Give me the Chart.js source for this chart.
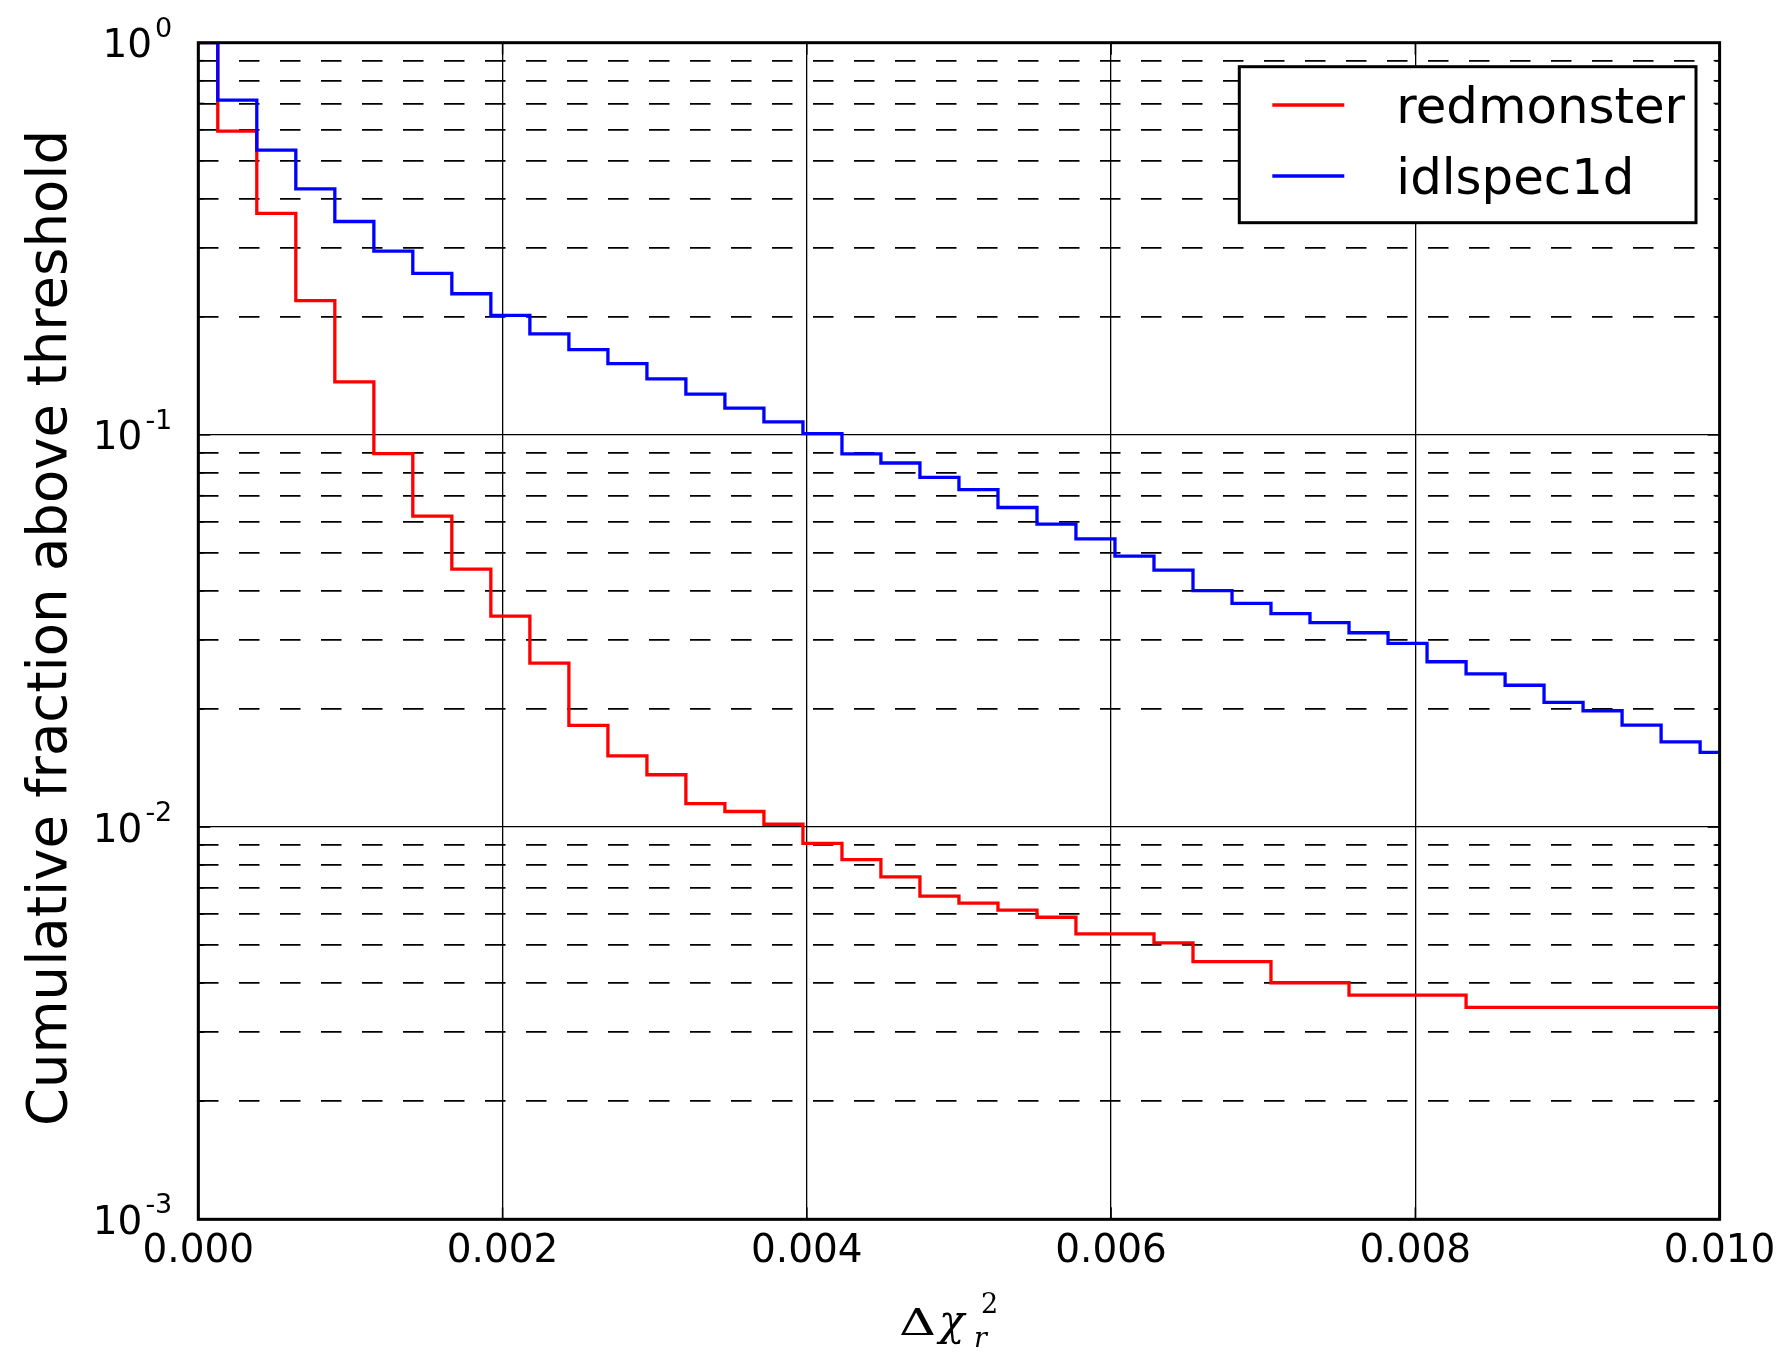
<!DOCTYPE html>
<html>
<head>
<meta charset="utf-8" />
<title>Cumulative fraction above threshold</title>
<script src="https://cdn.jsdelivr.net/npm/chart.js@4.4.0/dist/chart.umd.min.js"></script>
<style>
	body { margin: 0; padding: 0; background: #fff; }
	#chart { position: absolute; left: 0; top: 0; }
</style>
</head>
<body>
<canvas id="chart" width="1790" height="1356"></canvas>

<script>

// thresholds on the x axis (delta chi2_r)
var thresholds = [0.000000, 0.000256, 0.000513, 0.000769, 0.001026, 0.001282, 0.001538, 0.001795,
	0.002051, 0.002308, 0.002564, 0.002821, 0.003077, 0.003333, 0.003590, 0.003846,
	0.004103, 0.004359, 0.004615, 0.004872, 0.005128, 0.005385, 0.005641, 0.005897,
	0.006154, 0.006410, 0.006667, 0.006923, 0.007179, 0.007436, 0.007692, 0.007949,
	0.008205, 0.008462, 0.008718, 0.008974, 0.009231, 0.009487, 0.009744, 0.010000];

var redmonster = [1.0, 0.595, 0.367, 0.220, 0.1365, 0.0896, 0.0621, 0.0455,
	0.0345, 0.0262, 0.01816, 0.0152, 0.0136, 0.01148, 0.01096, 0.01017,
	0.00909, 0.00826, 0.00747, 0.00667, 0.0064, 0.00614, 0.00589, 0.00534,
	0.00534, 0.00507, 0.00454, 0.00454, 0.00401, 0.00401, 0.00373, 0.00373,
	0.00373, 0.00347, 0.00347, 0.00347, 0.00347, 0.00347, 0.00347, 0.00347];

var idlspec1d = [1.0, 0.714, 0.532, 0.424, 0.350, 0.294, 0.258, 0.229,
	0.2018, 0.181, 0.165, 0.152, 0.139, 0.127, 0.117, 0.108,
	0.1007, 0.0895, 0.0848, 0.0779, 0.0725, 0.0653, 0.0592, 0.0543,
	0.0491, 0.0452, 0.0401, 0.0372, 0.035, 0.0332, 0.0313, 0.0294,
	0.0264, 0.0246, 0.023, 0.0208, 0.0198, 0.0182, 0.0165, 0.0155];

var xTicks = [0, 0.002, 0.004, 0.006, 0.008, 0.010];
var yDecades = [0.001, 0.01, 0.1, 1];
var yDecadeExp = ['-3', '-2', '-1', '0'];

var yLabel = 'Cumulative fraction above threshold';

// minor positions 2..9 in each decade
var yGridValues = [];
for (var d = 0; d < yDecades.length - 1; d++) {
	for (var m = 1; m <= 9; m++) {
		yGridValues.push(parseFloat((m * yDecades[d]).toPrecision(3)));
	}
}
yGridValues.push(1);

function isDecade(v) {
	var l = Math.log10(v);
	return Math.abs(l - Math.round(l)) < 1e-6;
}

function pts(ys) {
	return thresholds.map(function (x, i) { return { x: x, y: ys[i] }; });
}

var extras = {
	id: 'extras',
	afterDraw: function (chart) {
		var ctx = chart.ctx, a = chart.chartArea;
		var sx = chart.scales.x, sy = chart.scales.y;
		ctx.save();

		function seg(x1, y1, x2, y2) {
			ctx.beginPath(); ctx.moveTo(x1, y1); ctx.lineTo(x2, y2); ctx.stroke();
		}

		// inward ticks
		ctx.strokeStyle = '#000';
		ctx.lineWidth = 1.5;
		yGridValues.forEach(function (v) {
			var py = sy.getPixelForValue(v);
			var len = isDecade(v) ? 12 : 6;
			seg(a.left, py, a.left + len, py);
			seg(a.right - len, py, a.right, py);
		});
		xTicks.forEach(function (v) {
			var px = sx.getPixelForValue(v);
			seg(px, a.bottom, px, a.bottom - 12);
			seg(px, a.top, px, a.top + 12);
		});

		// frame
		ctx.lineWidth = 3;
		ctx.strokeRect(a.left, a.top, a.right - a.left, a.bottom - a.top);

		// y tick labels 10^n
		ctx.fillStyle = '#000';
		ctx.textBaseline = 'alphabetic';
		yDecades.forEach(function (v, i) {
			var py = sy.getPixelForValue(v);
			ctx.font = '27px "DejaVu Sans"';
			ctx.textAlign = 'right';
			var supRight = a.left - 26;
			ctx.fillText(yDecadeExp[i], supRight, py - 6);
			var supW = ctx.measureText(yDecadeExp[i]).width;
			ctx.font = '39px "DejaVu Sans"';
			ctx.fillText('10', supRight - supW - 3, py + 14.5);
		});

		// y axis title
		ctx.save();
		ctx.translate(66, (a.top + a.bottom) / 2 - 3);
		ctx.rotate(-Math.PI / 2);
		ctx.font = '54.5px "DejaVu Sans"';
		ctx.textAlign = 'center';
		ctx.textBaseline = 'alphabetic';
		ctx.fillText(yLabel, 0, 0);
		ctx.restore();

		// x axis title  Δχ_r^2
		var cx = (a.left + a.right) / 2;
		ctx.textAlign = 'left';
		ctx.save();
		ctx.translate(cx - 60, 1335);
		ctx.scale(1.35, 1);
		ctx.font = '38px "DejaVu Serif"';
		ctx.fillText('Δ', 0, 0);
		ctx.restore();
		ctx.font = 'italic 42px "DejaVu Serif"';
		ctx.fillText('χ', cx - 20, 1335);
		ctx.font = 'italic 27px "DejaVu Serif"';
		ctx.fillText('r', cx + 15, 1347);
		ctx.font = '27px "DejaVu Serif"';
		ctx.fillText('2', cx + 22, 1313);

		// legend
		var bx = a.right - 23.6 - 456.7, by = a.top + 24;
		ctx.fillStyle = '#fff';
		ctx.fillRect(bx, by, 456.7, 156);
		ctx.lineWidth = 3;
		ctx.strokeStyle = '#000';
		ctx.strokeRect(bx, by, 456.7, 156);
		chart.data.datasets.forEach(function (ds, i) {
			var ly = by + 38.3 + i * 71;
			ctx.strokeStyle = ds.borderColor;
			ctx.lineWidth = 3.3;
			seg(bx + 33, ly, bx + 105, ly);
			ctx.fillStyle = '#000';
			ctx.font = '49.8px "DejaVu Sans"';
			ctx.textAlign = 'left';
			ctx.textBaseline = 'alphabetic';
			ctx.fillText(ds.label, bx + 157, ly + 17.7);
		});

		ctx.restore();
	}
};

var chart = new Chart(document.getElementById('chart'), {
	type: 'line',
	data: {
		datasets: [{
			label: 'redmonster',
			data: pts(redmonster),
			borderColor: 'rgb(255, 0, 0)',
			borderWidth: 3.3,
			stepped: 'middle',
			pointRadius: 0,
			fill: false,
			order: 2
		}, {
			label: 'idlspec1d',
			data: pts(idlspec1d),
			borderColor: 'rgb(0, 0, 255)',
			borderWidth: 3.3,
			stepped: 'middle',
			pointRadius: 0,
			fill: false,
			order: 1
		}]
	},
	options: {
		responsive: false,
		animation: false,
		devicePixelRatio: 1,
		layout: { padding: { top: 42.7, right: 70.4, left: 0, bottom: 0 } },
		plugins: { legend: { display: false }, tooltip: { enabled: false } },
		scales: {
			x: {
				type: 'linear',
				min: 0,
				max: 0.01,
				afterBuildTicks: function (s) { s.ticks = xTicks.map(function (v) { return { value: v }; }); },
				afterFit: function (s) { s.height = 136.7; },
				ticks: {
					autoSkip: false,
					maxRotation: 0,
					padding: 9,
					color: '#000',
					font: { family: 'DejaVu Sans', size: 39 },
					callback: function (v) { return Number(v).toFixed(3); }
				},
				grid: { color: '#000', lineWidth: 1.3, drawTicks: false },
				border: { display: false }
			},
			y: {
				type: 'logarithmic',
				min: 0.001,
				max: 1,
				afterBuildTicks: function (s) { s.ticks = yGridValues.map(function (v) { return { value: v, major: isDecade(v) }; }); },
				afterFit: function (s) { s.width = 198.3; },
				ticks: { display: false, autoSkip: false },
				grid: {
					color: '#000',
					drawTicks: false,
					lineWidth: function (c) { return c.tick && !isDecade(c.tick.value) ? 1.8 : 1.3; }
				},
				border: {
					display: false,
					dash: function (c) { return c.tick && !isDecade(c.tick.value) ? [20.5, 20.5] : []; }
				}
			}
		}
	},
	plugins: [extras]
});

</script>
</body>
</html>
